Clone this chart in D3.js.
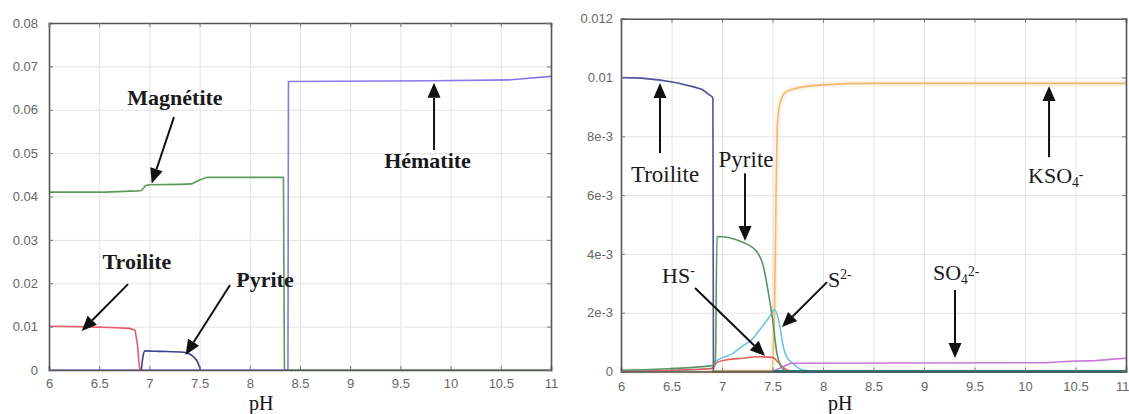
<!DOCTYPE html>
<html>
<head>
<meta charset="utf-8">
<script src="https://cdn.jsdelivr.net/npm/d3@7/dist/d3.min.js"></script>
<style>
  html, body { margin: 0; padding: 0; background: #ffffff; }
  svg { display: block; }
  .tick text { font-family: Arial, "Liberation Sans", sans-serif; font-size: 13px; fill: #666; }
</style>
</head>
<body>
<svg id="chart" width="1129" height="414"></svg>
<script>
// ---- axis ticks ----
const phTicks = [6, 6.5, 7, 7.5, 8, 8.5, 9, 9.5, 10, 10.5, 11];
const leftYTicks = [0, 0.01, 0.02, 0.03, 0.04, 0.05, 0.06, 0.07, 0.08];
const leftYLabels = ["0", "0.01", "0.02", "0.03", "0.04", "0.05", "0.06", "0.07", "0.08"];
const rightYTicks = [0, 0.002, 0.004, 0.006, 0.008, 0.01, 0.012];
const rightYLabels = ["0", "2e-3", "4e-3", "6e-3", "8e-3", "0.01", "0.012"];

// ---- solid phases vs pH (left panel), [pH, amount] ----
const magnetite = [[6, 0.041], [6.56, 0.041], [6.88, 0.0413], [6.92, 0.0414], [6.96, 0.0425],
  [7.0, 0.0427], [7.3, 0.0428], [7.42, 0.0429], [7.5, 0.0438], [7.57, 0.0444],
  [8.335, 0.0444], [8.345, 0], [11, 0]];
const hematite = [[6, 0], [8.38, 0], [8.385, 0.0665], [9.85, 0.0667], [10.6, 0.0669], [11, 0.0677]];
const troiliteSolid = [[6, 0.0101], [6.3, 0.0100], [6.6, 0.0098], [6.8, 0.0096], [6.857, 0.0092],
  [6.88, 0.006], [6.895, 0.002], [6.906, 0]];
const pyriteSolid = [[6.92, 0], [6.935, 0.003], [6.956, 0.0044], [7.1, 0.0043], [7.34, 0.0041],
  [7.4, 0.0037], [7.45, 0.0028], [7.48, 0.0018], [7.5, 0.0006], [7.51, 0]];

// ---- aqueous / mineral species vs pH (right panel), [pH, amount] ----
const troiliteAq = [[6, 0.0100], [6.2, 0.00998], [6.39, 0.00991], [6.55, 0.00982], [6.71, 0.00969],
  [6.8, 0.0096], [6.9, 0.00935], [6.91, 0.0093], [6.915, 0]];
const pyriteAq = [[6, 0.00004], [6.5, 0.0001], [6.9, 0.0002], [6.935, 0.0004], [6.95, 0.00459],
  [7.195, 0.00441], [7.34, 0.0041], [7.41, 0.00357], [7.46, 0.00266], [7.5, 0.0018],
  [7.54, 0.0007], [7.58, 0.0002], [7.65, 0], [11, 0]];
const sulfide = [[6, 0], [6.5, 0.00003], [6.9, 0.0001], [6.95, 0.00037], [7.1, 0.0006],
  [7.195, 0.00084], [7.3, 0.0011], [7.37, 0.0014], [7.47, 0.00186], [7.52, 0.0021],
  [7.57, 0.0016], [7.6, 0.00096], [7.64, 0.0005], [7.7, 0.00028], [7.8, 0.00005], [8, 0], [11, 0]];
const bisulfide = [[6, 0], [6.9, 0.0001], [6.95, 0.0003], [7.05, 0.0004], [7.2, 0.00045],
  [7.35, 0.0005], [7.5, 0.00048], [7.56, 0.0003], [7.62, 0.0001], [7.7, 0]];
const sulfate = [[7.5, 0], [7.6, 0.00015], [7.68, 0.00028], [10.2, 0.0003], [10.45, 0.00035],
  [10.7, 0.00037], [10.9, 0.00043], [11, 0.00045]];
const potassiumSulfate = [[6, 0], [7.49, 0], [7.52, 0.002], [7.535, 0.006], [7.55, 0.0085],
  [7.58, 0.0092], [7.63, 0.0095], [7.7, 0.0096], [7.8, 0.00968], [8, 0.00975],
  [8.5, 0.0098], [11, 0.0098]];
const baseline = [[7.5, 0], [11, 0]];
const baselineBrown = [[6.9, 0], [7.5, 0]];

const svg = d3.select("#chart");

function drawPanel(cfg) {
  const x = d3.scaleLinear().domain([6, 11]).range(cfg.xRange);
  const y = d3.scaleLinear().domain(cfg.yDomain).range(cfg.yRange);
  const [x0, x1] = cfg.xRange;
  const [y0, y1] = cfg.yRange; // y0 bottom, y1 top
  const g = svg.append("g");

  // grid
  g.append("g").attr("transform", `translate(0,${y0})`)
    .call(d3.axisBottom(x).tickValues(phTicks).tickSize(-(y0 - y1)).tickFormat(""))
    .call(s => s.select(".domain").remove())
    .call(s => s.selectAll("line").attr("stroke", "#e4e4e4"));
  g.append("g").attr("transform", `translate(${x0},0)`)
    .call(d3.axisLeft(y).tickValues(cfg.yTicks).tickSize(-(x1 - x0)).tickFormat(""))
    .call(s => s.select(".domain").remove())
    .call(s => s.selectAll("line").attr("stroke", "#e4e4e4"));

  // curves
  cfg.series.forEach(s => {
    const line = d3.line().x(d => x(d[0])).y(d => y(d[1]))
      .curve(s.smooth ? d3.curveMonotoneX : d3.curveLinear);
    if (s.halo) {
      g.append("path").datum(s.data).attr("d", line).attr("fill", "none")
        .attr("stroke", s.color).attr("stroke-opacity", 0.15).attr("stroke-width", 6)
        .attr("stroke-linejoin", "round");
    }
    g.append("path").datum(s.data).attr("d", line).attr("fill", "none")
      .attr("stroke", s.color).attr("stroke-width", s.width || 1.6)
      .attr("stroke-linejoin", "round");
  });

  // frame with inner ticks
  const bottom = g.append("g").attr("transform", `translate(0,${y0})`)
    .call(d3.axisBottom(x).tickValues(phTicks).tickSize(-4).tickPadding(cfg.xPad)
      .tickFormat(d => String(d)));
  const left = g.append("g").attr("transform", `translate(${x0},0)`)
    .call(d3.axisLeft(y).tickValues(cfg.yTicks).tickSize(-4).tickPadding(cfg.yPad)
      .tickFormat((d, i) => cfg.yLabels[i]));
  const top = g.append("g").attr("transform", `translate(0,${y1})`)
    .call(d3.axisTop(x).tickValues(phTicks).tickSize(-4).tickFormat(""));
  const right = g.append("g").attr("transform", `translate(${x1},0)`)
    .call(d3.axisRight(y).tickValues(cfg.yTicks).tickSize(-4).tickFormat(""));
  [bottom, left, top, right].forEach(a => {
    a.select(".domain").attr("stroke", "#555").attr("stroke-width", 1.6);
    a.selectAll(".tick line").attr("stroke", "#777");
  });
  if (cfg.lastTickEnd) {
    bottom.selectAll(".tick").filter(d => d === 11).select("text")
      .attr("text-anchor", "end").attr("x", 1129 - x1);
  }

  // axis title
  g.append("text").attr("x", cfg.titleX).attr("y", cfg.titleY)
    .attr("font-family", "'Liberation Serif', 'Times New Roman', serif")
    .attr("font-size", 20).attr("fill", "#111").text("pH");

  // annotations with arrows
  cfg.notes.forEach(n => {
    const t = g.append("text")
      .attr("x", x(n.at[0])).attr("y", y(n.at[1]))
      .attr("text-anchor", n.anchor || "middle")
      .attr("font-family", "'Liberation Serif', 'Times New Roman', serif")
      .attr("font-size", n.size).attr("font-weight", n.weight).attr("fill", "#1a1a1a");
    n.parts.forEach(p => {
      const sp = t.append("tspan").text(p.t);
      if (p.sup) sp.attr("font-size", n.size * 0.62).attr("dy", -n.size * 0.38);
      if (p.sub) sp.attr("font-size", n.size * 0.62).attr("dy", n.size * 0.2);
    });
    const ax0 = x(n.from[0]), ay0 = y(n.from[1]);
    const ax1 = x(n.to[0]), ay1 = y(n.to[1]);
    const ang = Math.atan2(ay1 - ay0, ax1 - ax0);
    const L = 15, W = 6.5;
    const bx = ax1 - L * Math.cos(ang), by = ay1 - L * Math.sin(ang);
    g.append("line").attr("x1", ax0).attr("y1", ay0).attr("x2", bx).attr("y2", by)
      .attr("stroke", "#111").attr("stroke-width", 2);
    const px = -Math.sin(ang), py = Math.cos(ang);
    g.append("path")
      .attr("d", `M${ax1},${ay1}L${bx + px * W},${by + py * W}L${bx - px * W},${by - py * W}Z`)
      .attr("fill", "#111");
  });
}

drawPanel({
  xRange: [49, 551], yRange: [370, 23], yDomain: [0, 0.08],
  yTicks: leftYTicks, yLabels: leftYLabels, xPad: 9, yPad: 11,
  lastTickEnd: false,
  titleX: 249, titleY: 409.5,
  series: [
    { data: magnetite, color: "#5b9b5b" },
    { data: hematite, color: "#8a78e6" },
    { data: troiliteSolid, color: "#e35d6a" },
    { data: pyriteSolid, color: "#3d3d8f", smooth: true }
  ],
  notes: [
    { parts: [{ t: "Magnétite" }], at: [7.255, 0.0611], size: 22, weight: "bold",
      from: [7.245, 0.0583], to: [7.023, 0.0430] },
    { parts: [{ t: "Troilite" }], at: [6.876, 0.0233], size: 22, weight: "bold",
      from: [6.787, 0.0198], to: [6.326, 0.0090] },
    { parts: [{ t: "Pyrite" }], at: [8.151, 0.0191], size: 22, weight: "bold",
      from: [7.803, 0.0196], to: [7.36, 0.00346] },
    { parts: [{ t: "Hématite" }], at: [9.77, 0.0466], size: 22, weight: "bold",
      from: [9.835, 0.0507], to: [9.835, 0.0662] }
  ]
});

drawPanel({
  xRange: [621, 1126], yRange: [371.5, 18.7], yDomain: [0, 0.012],
  yTicks: rightYTicks, yLabels: rightYLabels, xPad: 10, yPad: 8,
  lastTickEnd: true,
  titleX: 828, titleY: 409.5,
  series: [
    { data: potassiumSulfate, color: "#f2b86e", halo: true, smooth: true },
    { data: sulfide, color: "#6cc3ea", smooth: true },
    { data: bisulfide, color: "#e06060", smooth: true },
    { data: sulfate, color: "#c878d8" },
    { data: troiliteAq, color: "#50509a" },
    { data: pyriteAq, color: "#5a9565", smooth: true },
    { data: baselineBrown, color: "#a88a5a", width: 2.5 },
    { data: baseline, color: "#267a78", width: 3 }
  ],
  notes: [
    { parts: [{ t: "Troilite" }], at: [6.436, 0.00645], size: 23, weight: "normal",
      from: [6.386, 0.00743], to: [6.386, 0.00981] },
    { parts: [{ t: "Pyrite" }], at: [7.238, 0.00696], size: 23, weight: "normal",
      from: [7.228, 0.00674], to: [7.228, 0.00444] },
    { parts: [{ t: "HS" }, { t: "-", sup: true }], at: [6.406, 0.00301], anchor: "start",
      size: 22, weight: "normal", from: [6.733, 0.00284], to: [7.426, 0.00053] },
    { parts: [{ t: "S" }, { t: "2-", sup: true }], at: [8.05, 0.00287], anchor: "start",
      size: 22, weight: "normal", from: [8.04, 0.00304], to: [7.594, 0.00151] },
    { parts: [{ t: "SO" }, { t: "4", sub: true }, { t: "2-", sup: true }],
      at: [9.089, 0.00311], anchor: "start",
      size: 22, weight: "normal", from: [9.307, 0.00277], to: [9.307, 0.00046] },
    { parts: [{ t: "KSO" }, { t: "4", sub: true }, { t: "-", sup: true }],
      at: [10.03, 0.00641], anchor: "start",
      size: 22, weight: "normal", from: [10.238, 0.00729], to: [10.238, 0.00971] }
  ]
});
</script>
</body>
</html>
